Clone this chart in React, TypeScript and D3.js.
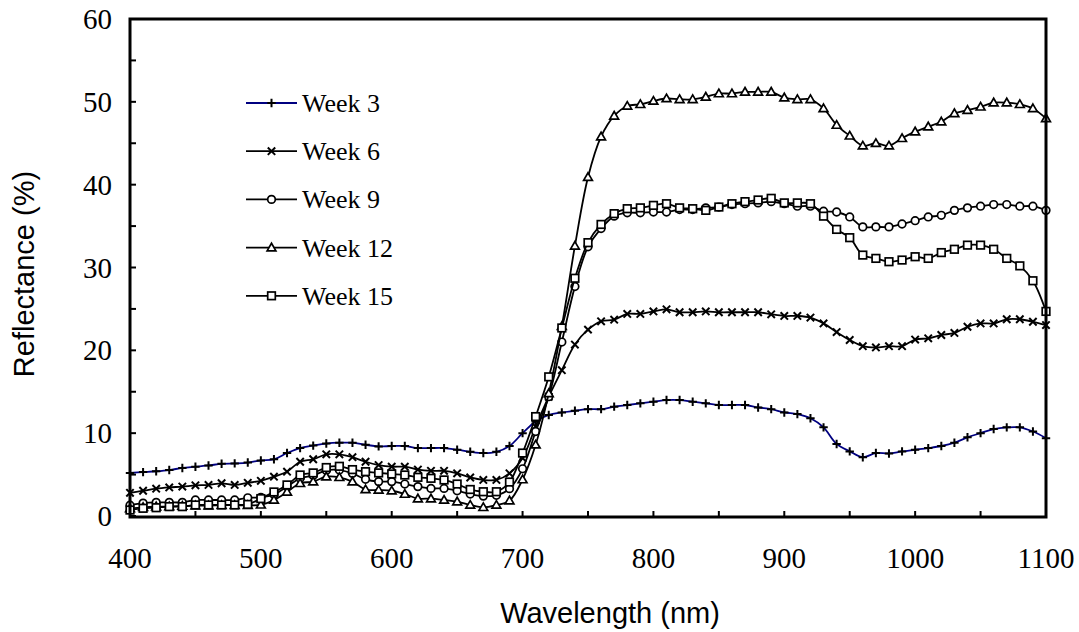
import React from 'react';
import * as d3 from 'd3';

const wavelengths = [400,410,420,430,440,450,460,470,480,490,500,510,520,530,540,550,560,570,580,590,600,610,620,630,640,650,660,670,680,690,700,710,720,730,740,750,760,770,780,790,800,810,820,830,840,850,860,870,880,890,900,910,920,930,940,950,960,970,980,990,1000,1010,1020,1030,1040,1050,1060,1070,1080,1090,1100];

const week3 = [5.2,5.3,5.4,5.55,5.8,5.95,6.1,6.3,6.35,6.45,6.7,6.85,7.6,8.2,8.5,8.75,8.85,8.85,8.6,8.4,8.45,8.45,8.2,8.2,8.2,8.0,7.75,7.6,7.75,8.45,10.0,11.4,12.2,12.5,12.7,12.9,12.9,13.2,13.4,13.6,13.8,14.0,14.0,13.8,13.6,13.4,13.4,13.4,13.1,12.9,12.5,12.3,11.8,10.7,8.7,7.8,7.1,7.6,7.55,7.8,8.0,8.2,8.45,8.85,9.5,10.0,10.5,10.7,10.7,10.2,9.4];

const week6 = [2.8,3.05,3.3,3.45,3.55,3.7,3.75,3.95,3.75,4.0,4.25,4.75,5.35,6.55,6.85,7.45,7.45,7.1,6.55,6.15,5.95,5.95,5.6,5.45,5.45,5.15,4.65,4.35,4.35,5.15,7.0,10.8,14.4,17.6,20.7,22.5,23.5,23.7,24.4,24.4,24.7,24.95,24.6,24.6,24.7,24.6,24.6,24.6,24.6,24.35,24.15,24.15,23.95,23.25,22.2,21.25,20.5,20.35,20.5,20.5,21.3,21.45,21.85,22.1,22.85,23.25,23.25,23.75,23.75,23.45,23.05];

const week9 = [1.3,1.55,1.65,1.65,1.65,1.93,1.93,1.93,1.93,2.2,2.25,2.6,3.55,4.55,4.9,5.5,5.55,5.15,4.43,4.15,4.15,3.86,3.55,3.33,3.33,3.05,2.65,2.4,2.5,3.3,5.7,10.2,14.4,21.0,27.7,32.5,34.7,36.2,36.6,36.6,36.7,36.7,37.0,37.0,37.2,37.3,37.6,37.7,37.8,37.95,37.7,37.4,37.4,36.8,36.7,36.1,34.9,34.9,34.9,35.25,35.65,36.1,36.3,36.9,37.2,37.4,37.6,37.6,37.4,37.4,36.9];

const week12 = [0.9,1.05,1.13,1.15,1.2,1.25,1.25,1.3,1.3,1.3,1.35,1.93,2.9,3.95,4.15,4.75,4.67,4.15,3.2,3.14,3.05,2.65,2.1,2.1,1.93,1.73,1.33,1.05,1.33,1.85,4.4,8.6,14.8,22.9,32.6,40.9,45.8,48.3,49.5,49.7,50.1,50.4,50.3,50.3,50.6,51.0,51.0,51.2,51.2,51.2,50.5,50.3,50.3,49.2,47.2,45.9,44.7,45.0,44.7,45.6,46.4,47.0,47.6,48.6,49.0,49.4,49.9,49.9,49.7,49.2,48.0];

const week15 = [0.72,0.93,1.0,1.13,1.13,1.33,1.33,1.33,1.33,1.4,2.1,2.9,3.75,4.95,5.2,5.85,6.0,5.6,5.35,5.2,5.07,4.95,4.67,4.55,4.35,3.86,3.2,2.93,2.93,4.1,7.6,12.0,16.8,22.7,28.7,33.0,35.2,36.5,37.1,37.2,37.5,37.7,37.2,37.1,36.9,37.3,37.7,37.95,38.15,38.35,37.8,37.8,37.7,36.2,34.6,33.6,31.5,31.1,30.7,30.9,31.3,31.1,31.8,32.2,32.7,32.7,32.2,31.1,30.2,28.4,24.7];

const seriesNames = ['Week 3', 'Week 6', 'Week 9', 'Week 12', 'Week 15'];
const seriesValues = [week3, week6, week9, week12, week15];
const seriesMarkers = ['plus', 'cross', 'circle', 'triangle', 'square'];
const seriesLineColors = ['#000080', '#000000', '#000000', '#000000', '#000000'];

const xTickLabels = [400, 500, 600, 700, 800, 900, 1000, 1100];
const yTickLabels = [0, 10, 20, 30, 40, 50, 60];

const W = 1079, H = 632;
const left = 130, right = 1046, top = 19, bottom = 517;
const serif = "'Liberation Serif', 'Times New Roman', serif";
const sans = "'Liberation Sans', Arial, sans-serif";

function Marker({ type, x, y }: { type: string; x: number; y: number }) {
  const s = 4.2;
  const common = { stroke: '#000', strokeWidth: 1.7, fill: '#fff' };
  switch (type) {
    case 'plus':
      return <path d={`M${x - s},${y}H${x + s}M${x},${y - s}V${y + s}`} stroke="#000" strokeWidth={2} fill="none" />;
    case 'cross':
      return <path d={`M${x - 3.7},${y - 3.7}L${x + 3.7},${y + 3.7}M${x - 3.7},${y + 3.7}L${x + 3.7},${y - 3.7}`} stroke="#000" strokeWidth={2} fill="none" />;
    case 'circle':
      return <circle cx={x} cy={y} r={3.8} {...common} />;
    case 'triangle':
      return <path d={`M${x},${y - 4.4}L${x + 4.4},${y + 3.2}L${x - 4.4},${y + 3.2}Z`} {...common} />;
    case 'square':
      return <rect x={x - 3.8} y={y - 3.8} width={7.6} height={7.6} {...common} />;
    default:
      return null;
  }
}

export default function App() {
  const x = d3.scaleLinear().domain([400, 1100]).range([left, right]);
  const y = d3.scaleLinear().domain([0, 60]).range([bottom - 1, top]);
  const line = d3
    .line<number>()
    .x((_, i) => x(wavelengths[i]))
    .y((d) => y(d))
    .curve(d3.curveCatmullRom.alpha(0.5));

  const xMinor = d3.range(400, 1101, 50);
  const yMinor = d3.range(0, 61, 5);

  const legendX = 246, legendY0 = 103, legendDy = 48.2;

  return (
    <svg width={W} height={H} style={{ position: 'absolute', left: 0, top: 0, background: '#fff' }}>
      <rect x={0} y={0} width={W} height={H} fill="#fff" />
      {xMinor.map((t) => (
        <line key={'xt' + t} x1={x(t)} x2={x(t)} y1={bottom} y2={bottom - 6} stroke="#000" strokeWidth={2} />
      ))}
      {yMinor.map((t) => (
        <line key={'yt' + t} x1={left} x2={left + 6} y1={y(t)} y2={y(t)} stroke="#000" strokeWidth={2} />
      ))}
      {seriesValues.map((vals, si) => (
        <g key={seriesNames[si]}>
          <path d={line(vals) || ''} fill="none" stroke={seriesLineColors[si]} strokeWidth={1.8} />
          {vals.map((v, i) => (
            <Marker key={i} type={seriesMarkers[si]} x={x(wavelengths[i])} y={y(v)} />
          ))}
        </g>
      ))}
      <rect x={left} y={top} width={right - left} height={bottom - top} fill="none" stroke="#000" strokeWidth={3} />
      {xTickLabels.map((t) => (
        <text key={'xl' + t} x={x(t)} y={568} textAnchor="middle" fontFamily={serif} fontSize={29}>
          {t}
        </text>
      ))}
      {yTickLabels.map((t) => (
        <text key={'yl' + t} x={112} y={y(t) + 10} textAnchor="end" fontFamily={serif} fontSize={29}>
          {t}
        </text>
      ))}
      <text x={610} y={623} textAnchor="middle" fontFamily={sans} fontSize={29}>
        Wavelength (nm)
      </text>
      <text transform={`translate(34,${(top + bottom) / 2 + 6}) rotate(-90)`} textAnchor="middle" fontFamily={sans} fontSize={29}>
        Reflectance (%)
      </text>
      {seriesNames.map((name, i) => {
        const ly = legendY0 + i * legendDy;
        return (
          <g key={'lg' + name}>
            <line x1={legendX} x2={legendX + 51} y1={ly} y2={ly} stroke={seriesLineColors[i]} strokeWidth={1.8} />
            <Marker type={seriesMarkers[i]} x={legendX + 25.5} y={ly} />
            <text x={legendX + 56} y={ly + 9} fontFamily={serif} fontSize={26}>
              {name}
            </text>
          </g>
        );
      })}
    </svg>
  );
}
